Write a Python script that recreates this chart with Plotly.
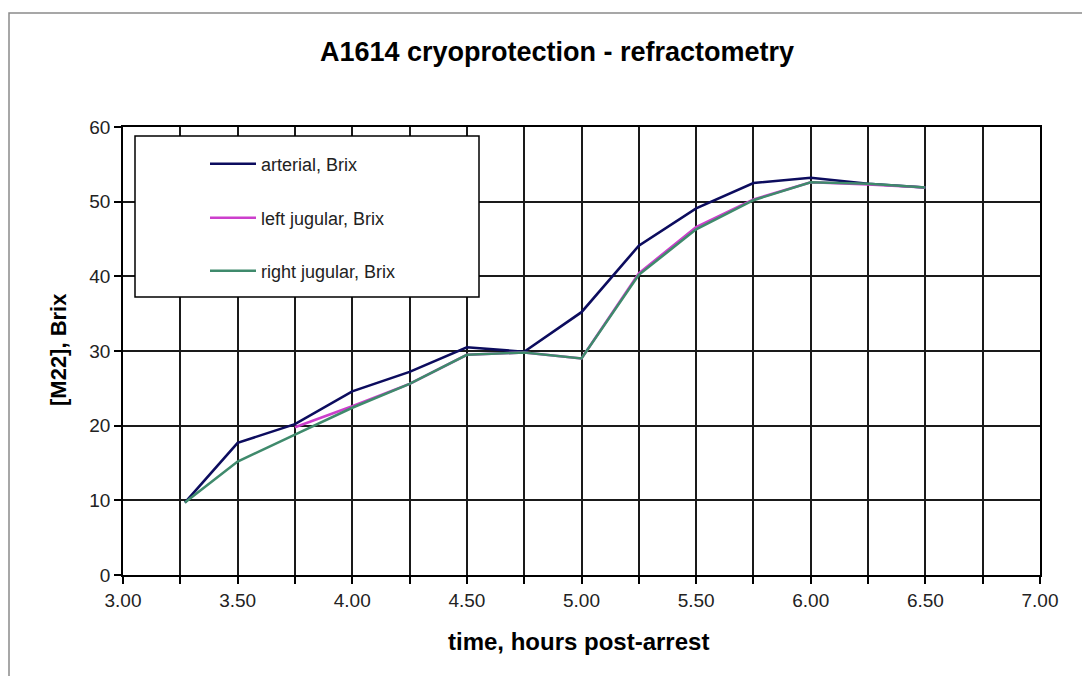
import plotly.graph_objects as go

# ---- data ----
time_h = [3.27, 3.50, 3.75, 4.00, 4.25, 4.50, 4.75, 5.00, 5.25, 5.50, 5.75, 6.00, 6.25, 6.50]
arterial = [9.7, 17.7, 20.2, 24.6, 27.2, 30.5, 29.9, 35.2, 44.1, 49.1, 52.5, 53.2, 52.4, 51.9]
left_jugular = [None, None, 19.8, 22.6, 25.6, 29.5, 29.8, 29.0, 40.4, 46.6, 50.3, 52.6, 52.3, 51.9]
right_jugular = [9.7, 15.2, 18.8, 22.4, 25.6, 29.5, 29.8, 29.0, 40.2, 46.3, 50.2, 52.6, 52.4, 51.9]

series_names = ["arterial, Brix", "left jugular, Brix", "right jugular, Brix"]
series_colors = ["#0c0c5e", "#cc3fcc", "#3f8a6c"]

title_text = "A1614 cryoprotection - refractometry"
x_title = "time, hours post-arrest"
y_title = "[M22], Brix"

# ---- layout geometry (page pixels; the page body adds an 8px offset) ----
OFF = 8
W, H = 1090, 676
L, R, T, B = 123 - OFF, 1040 - OFF, 127 - OFF, 575 - OFF  # plot area edges (figure px)
pw, ph = R - L, B - T


def px(xpage):
    return (xpage - OFF - L) / pw


def py(ypage):
    return (B - (ypage - OFF)) / ph


font_family = "Liberation Sans, Arial, sans-serif"
legend_ids = ["legend", "legend2", "legend3"]
legend_rows = [164, 218, 271]  # page y of each legend row centre

fig = go.Figure()
for name, vals, col, lid in zip(series_names, [arterial, left_jugular, right_jugular], series_colors, legend_ids):
    fig.add_trace(go.Scatter(
        x=time_h, y=vals, name=name, mode="lines",
        line=dict(color=col, width=2.6),
        connectgaps=False, legend=lid,
    ))

legend_common = dict(
    xanchor="left", yanchor="middle",
    bgcolor="rgba(0,0,0,0)", borderwidth=0,
    font=dict(size=18, family=font_family, color="#222"),
    itemwidth=46,
)
legend_layout = {}
for lid, row in zip(legend_ids, legend_rows):
    legend_layout[lid] = dict(x=px(205), y=py(row), **legend_common)

fig.update_layout(
    width=W, height=H,
    margin=dict(l=L, r=W - R, t=T, b=H - B),
    paper_bgcolor="white",
    plot_bgcolor="white",
    font=dict(family=font_family, color="black"),
    title=dict(
        text="<b>" + title_text + "</b>",
        font=dict(size=27, family=font_family, color="black"),
        x=px(557), xref="paper", xanchor="center",
        y=1 - (52 - OFF) / H, yref="container", yanchor="middle",
    ),
    showlegend=True,
    xaxis=dict(
        range=[3.0, 7.0], dtick=0.5, tick0=3.0, tickformat=".2f",
        showgrid=True, gridcolor="#1a1a1a", gridwidth=1.6,
        ticks="outside", ticklen=7, tickcolor="black", tickwidth=1.5,
        minor=dict(dtick=0.25, showgrid=True, gridcolor="#1a1a1a", gridwidth=1.6,
                   ticks="outside", ticklen=7, tickcolor="black", tickwidth=1.5),
        showline=True, linecolor="black", linewidth=1.6, mirror=True,
        tickfont=dict(size=19, family=font_family, color="#222"),
        zeroline=False, fixedrange=True,
    ),
    yaxis=dict(
        range=[0, 60], dtick=10, tick0=0,
        showgrid=True, gridcolor="#1a1a1a", gridwidth=1.6,
        ticks="outside", ticklen=7, tickcolor="black", tickwidth=1.5,
        showline=True, linecolor="black", linewidth=1.6, mirror=True,
        tickfont=dict(size=19, family=font_family, color="#222"),
        zeroline=False, fixedrange=True,
    ),
    **legend_layout,
)

# legend box (white, black border) covering gridlines
fig.add_shape(type="rect", xref="paper", yref="paper",
              x0=px(135), x1=px(479), y0=py(297), y1=py(136),
              fillcolor="white", line=dict(color="black", width=1.5), layer="above")

# outer chart frame (extends past right/bottom edge)
fig.add_shape(type="rect", xref="paper", yref="paper",
              x0=px(9), x1=px(1120), y0=py(720), y1=py(13),
              fillcolor="rgba(0,0,0,0)", line=dict(color="#8a8a8a", width=1.5), layer="above")

# axis titles
fig.add_annotation(text="<b>" + x_title + "</b>", xref="paper", yref="paper",
                   x=px(578), y=py(641), xanchor="center", yanchor="middle",
                   showarrow=False, font=dict(size=24, family=font_family, color="black"))
fig.add_annotation(text="<b>" + y_title + "</b>", xref="paper", yref="paper",
                   x=px(58), y=py(350), xanchor="center", yanchor="middle", textangle=-90,
                   showarrow=False, font=dict(size=22, family=font_family, color="black"))

fig.write_html("out.html")
